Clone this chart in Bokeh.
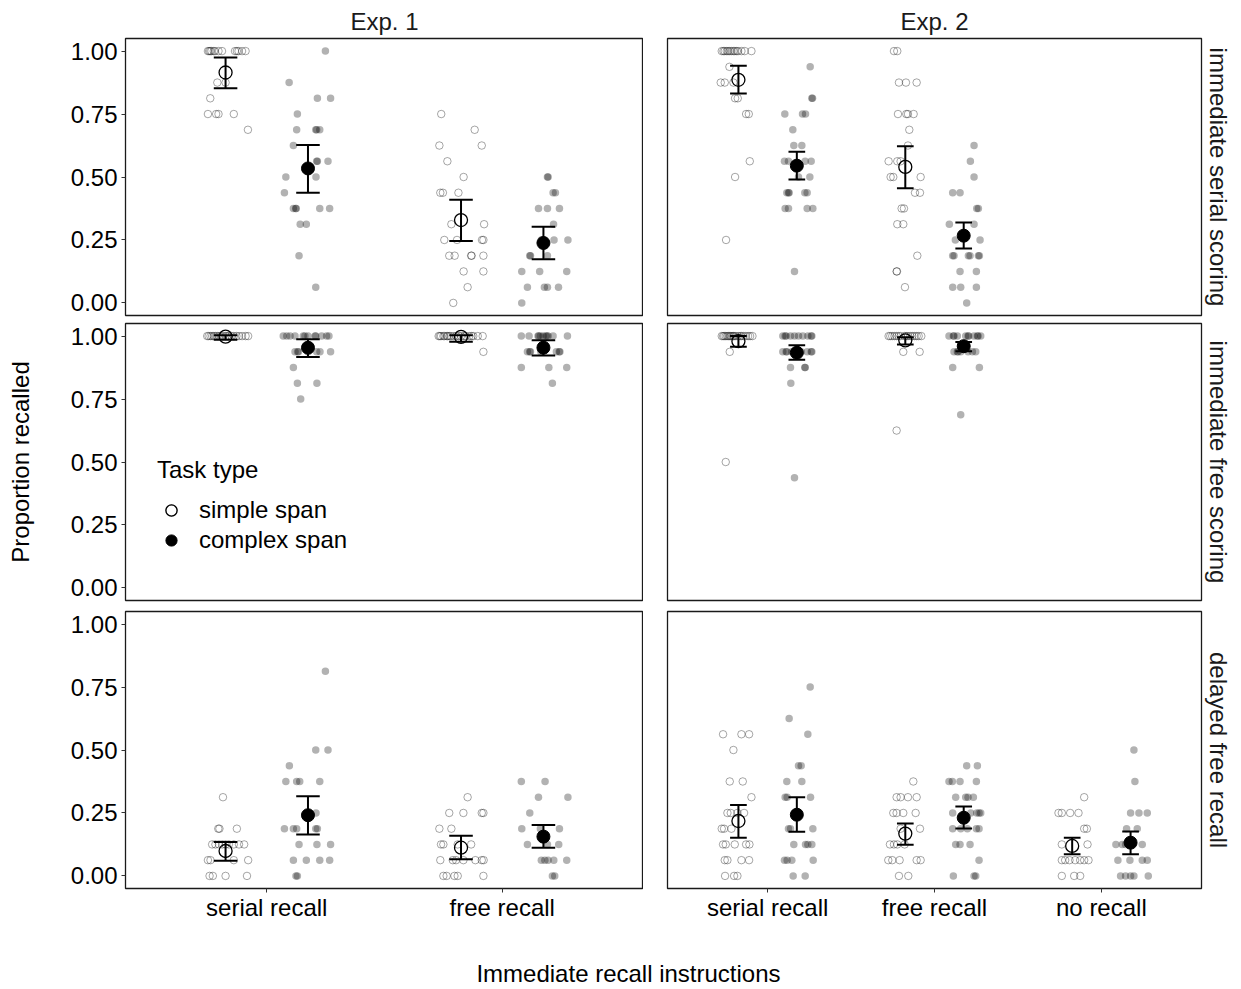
from bokeh.plotting import figure
from bokeh.layouts import column, row
from bokeh.models import Range1d, FixedTicker, Title, Legend, LegendItem, ColumnDataSource
from bokeh.embed import file_html
from bokeh.resources import INLINE

FONT = "Liberation Sans"
FS = "24px"

# ---------------- labels ----------------
measures = ["immediate serial scoring", "immediate free scoring", "delayed free recall"]
experiments = ["Exp. 1", "Exp. 2"]
e1_instr = ["serial recall", "free recall"]
e2_instr = ["serial recall", "free recall", "no recall"]
tasks = ["simple span", "complex span"]
y_ticks = [0.0, 0.25, 0.5, 0.75, 1.0]
y_tick_labels = ["0.00", "0.25", "0.50", "0.75", "1.00"]
x_title = "Immediate recall instructions"
y_title = "Proportion recalled"
legend_title = "Task type"

# ---------------- individual participants (value, jitter offset) ----------------
# row 1: immediate serial scoring
iss_e1_serial_simple_y = [1, 1, 1, 1, 1, 1, 1, 1, 1, 1, 1, 1, 1, 0.875, 0.875, 0.8125, 0.75, 0.75, 0.75, 0.75, 0.6875]
iss_e1_serial_simple_dx = [-0.075, -0.07, -0.065, -0.06, -0.05, -0.045, -0.03, -0.015, 0.04, 0.048, 0.055, 0.07, 0.085, -0.035, 0.0, -0.065, -0.075, -0.04, -0.03, 0.035, 0.095]
iss_e1_serial_complex_y = [1, 0.875, 0.8125, 0.8125, 0.75, 0.6875, 0.6875, 0.6875, 0.6875, 0.625, 0.5625, 0.5625, 0.5625, 0.5, 0.5, 0.4375, 0.375, 0.375, 0.375, 0.375, 0.375, 0.3125, 0.3125, 0.1875, 0.0625]
iss_e1_serial_complex_dx = [0.074, -0.08, 0.04, 0.096, -0.045, -0.048, 0.033, 0.037, 0.05, -0.062, 0.037, 0.04, 0.085, -0.094, 0.034, -0.1, -0.062, -0.052, -0.05, 0.05, 0.092, -0.033, -0.007, -0.038, 0.033]
iss_e1_free_simple_y = [0.75, 0.6875, 0.625, 0.625, 0.5625, 0.5, 0.4375, 0.4375, 0.4375, 0.3125, 0.3125, 0.25, 0.25, 0.25, 0.25, 0.1875, 0.1875, 0.1875, 0.1875, 0.1875, 0.125, 0.125, 0.0625, 0.0]
iss_e1_free_simple_dx = [-0.084, 0.058, -0.092, 0.088, -0.058, 0.011, -0.088, -0.077, -0.011, -0.041, 0.098, -0.071, -0.017, 0.089, 0.095, -0.05, -0.027, 0.043, 0.045, 0.095, 0.011, 0.095, 0.028, -0.033]
iss_e1_free_complex_y = [0.5, 0.5, 0.4375, 0.4375, 0.375, 0.375, 0.375, 0.3125, 0.25, 0.25, 0.25, 0.1875, 0.1875, 0.1875, 0.125, 0.125, 0.125, 0.0625, 0.0625, 0.0625, 0.0625, 0.0]
iss_e1_free_complex_dx = [0.017, 0.02, 0.041, 0.051, -0.021, 0.017, 0.068, 0.043, -0.009, 0.045, 0.104, -0.058, -0.055, 0.017, -0.092, -0.016, 0.099, -0.068, 0.004, 0.017, 0.064, -0.092]
iss_e2_serial_simple_y = [1, 1, 1, 1, 1, 1, 1, 1, 1, 1, 1, 1, 1, 1, 0.9375, 0.875, 0.875, 0.875, 0.8125, 0.8125, 0.75, 0.75, 0.5625, 0.5, 0.25]
iss_e2_serial_simple_dx = [-0.1, -0.09, -0.082, -0.07, -0.062, -0.052, -0.042, -0.03, -0.022, -0.01, -0.002, 0.018, 0.038, 0.078, -0.054, -0.106, -0.082, -0.03, -0.02, -0.004, 0.046, 0.062, 0.068, -0.02, -0.074]
iss_e2_serial_complex_y = [0.9375, 0.8125, 0.8125, 0.75, 0.75, 0.75, 0.6875, 0.625, 0.625, 0.5625, 0.5625, 0.5625, 0.5625, 0.5, 0.5, 0.4375, 0.4375, 0.4375, 0.4375, 0.4375, 0.375, 0.375, 0.375, 0.375, 0.125]
iss_e2_serial_complex_dx = [0.08, 0.09, 0.094, -0.072, 0.034, 0.052, -0.024, -0.018, 0.03, -0.074, -0.05, 0.05, 0.086, 0.078, 0.01, -0.06, -0.05, -0.046, 0.048, 0.062, -0.07, -0.05, 0.062, 0.096, -0.014]
iss_e2_free_simple_y = [1, 1, 0.875, 0.875, 0.875, 0.75, 0.75, 0.75, 0.75, 0.6875, 0.625, 0.5625, 0.5625, 0.5625, 0.5, 0.5, 0.5, 0.4375, 0.4375, 0.375, 0.375, 0.3125, 0.3125, 0.1875, 0.125, 0.125, 0.0625]
iss_e2_free_simple_dx = [-0.068, -0.048, -0.038, 0.004, 0.068, -0.044, 0.006, 0.016, 0.05, 0.024, 0.016, -0.1, -0.048, -0.028, -0.088, -0.072, 0.092, 0.058, 0.088, -0.022, -0.008, -0.048, -0.012, 0.072, -0.052, -0.05, -0.002]
iss_e2_free_complex_y = [0.625, 0.5625, 0.5, 0.4375, 0.4375, 0.375, 0.375, 0.3125, 0.3125, 0.25, 0.25, 0.1875, 0.1875, 0.1875, 0.1875, 0.1875, 0.1875, 0.125, 0.125, 0.0625, 0.0625, 0.0625, 0.0]
iss_e2_free_complex_dx = [0.062, 0.04, 0.062, -0.066, -0.022, 0.078, 0.088, -0.086, 0.062, -0.05, 0.098, -0.066, -0.058, 0.028, 0.038, 0.088, 0.094, -0.022, 0.076, -0.066, -0.018, 0.076, 0.018]

# row 2: immediate free scoring
ifs_e1_serial_simple_y = [1, 1, 1, 1, 1, 1, 1, 1, 1, 1, 1, 1, 1, 1, 1, 1, 1, 1, 1, 1]
ifs_e1_serial_simple_dx = [-0.078, -0.072, -0.064, -0.057, -0.05, -0.043, -0.035, -0.028, -0.021, -0.01, 0.0, 0.007, 0.014, 0.025, 0.035, 0.046, 0.057, 0.07, 0.085, 0.096]
ifs_e1_serial_complex_y = [1, 1, 1, 1, 1, 1, 1, 1, 1, 1, 1, 1, 0.9375, 0.9375, 0.9375, 0.9375, 0.9375, 0.9375, 0.9375, 0.875, 0.8125, 0.8125, 0.75]
ifs_e1_serial_complex_dx = [-0.105, -0.09, -0.076, -0.055, -0.02, -0.013, 0.0, 0.03, 0.033, 0.058, 0.079, 0.089, -0.055, -0.044, -0.04, 0.0, 0.037, 0.051, 0.096, -0.062, -0.045, 0.038, -0.031]
ifs_e1_free_simple_y = [1, 1, 1, 1, 1, 1, 1, 1, 1, 1, 1, 1, 1, 1, 1, 1, 1, 1, 1, 1, 0.9375]
ifs_e1_free_simple_dx = [-0.095, -0.09, -0.085, -0.075, -0.07, -0.06, -0.057, -0.05, -0.043, -0.03, -0.02, -0.01, 0.0, 0.014, 0.02, 0.035, 0.045, 0.052, 0.071, 0.092, 0.095]
ifs_e1_free_complex_y = [1, 1, 1, 1, 1, 1, 1, 1, 1, 1, 1, 0.9375, 0.9375, 0.9375, 0.9375, 0.9375, 0.9375, 0.9375, 0.875, 0.875, 0.875, 0.8125]
ifs_e1_free_complex_dx = [-0.094, -0.061, -0.023, -0.02, -0.013, -0.001, 0.01, 0.015, 0.02, 0.041, 0.102, -0.068, -0.058, -0.055, -0.011, 0.055, 0.067, 0.07, -0.094, 0.023, 0.099, 0.038]
ifs_e2_serial_simple_y = [1, 1, 1, 1, 1, 1, 1, 1, 1, 1, 1, 1, 1, 1, 1, 1, 1, 1, 1, 1, 0.9375, 0.5]
ifs_e2_serial_simple_dx = [-0.1, -0.092, -0.085, -0.076, -0.068, -0.06, -0.052, -0.046, -0.038, -0.03, -0.026, -0.015, -0.002, 0.01, 0.018, 0.03, 0.044, 0.058, 0.07, 0.084, -0.052, -0.076]
ifs_e2_serial_complex_y = [1, 1, 1, 1, 1, 1, 1, 1, 1, 1, 0.9375, 0.9375, 0.9375, 0.9375, 0.9375, 0.9375, 0.9375, 0.9375, 0.875, 0.875, 0.875, 0.8125, 0.4375]
ifs_e2_serial_complex_dx = [-0.084, -0.07, -0.064, -0.038, -0.014, 0.01, 0.036, 0.066, 0.086, 0.09, -0.084, -0.064, -0.06, -0.03, 0.026, 0.062, 0.086, 0.09, -0.038, 0.048, 0.05, -0.036, -0.014]
ifs_e2_free_simple_y = [1, 1, 1, 1, 1, 1, 1, 1, 1, 1, 1, 1, 1, 1, 1, 1, 0.9375, 0.9375, 0.625]
ifs_e2_free_simple_dx = [-0.1, -0.09, -0.078, -0.065, -0.052, -0.04, -0.028, -0.004, 0.005, 0.016, 0.03, 0.042, 0.055, 0.068, 0.08, 0.096, -0.012, 0.086, -0.052]
ifs_e2_free_complex_y = [1, 1, 1, 1, 1, 1, 1, 1, 1, 1, 1, 0.9375, 0.9375, 0.9375, 0.9375, 0.9375, 0.9375, 0.9375, 0.875, 0.875, 0.6875]
ifs_e2_free_complex_dx = [-0.088, -0.062, -0.058, -0.038, 0.012, 0.026, 0.03, 0.062, 0.082, 0.086, 0.102, -0.058, -0.038, -0.034, -0.018, 0.026, 0.052, 0.072, -0.066, 0.094, -0.018]

# row 3: delayed free recall
dfr_e1_serial_simple_y = [0.3125, 0.1875, 0.1875, 0.1875, 0.125, 0.125, 0.125, 0.125, 0.125, 0.125, 0.125, 0.125, 0.125, 0.0625, 0.0625, 0.0625, 0.0625, 0.0, 0.0, 0.0, 0.0]
dfr_e1_serial_simple_dx = [-0.011, -0.031, -0.026, 0.048, -0.057, -0.043, -0.028, -0.014, 0.0, 0.014, 0.035, 0.057, 0.079, -0.075, -0.064, 0.035, 0.096, -0.068, -0.054, 0.0, 0.091]
dfr_e1_serial_complex_y = [0.8125, 0.5, 0.5, 0.4375, 0.375, 0.375, 0.375, 0.375, 0.25, 0.1875, 0.1875, 0.1875, 0.1875, 0.1875, 0.125, 0.125, 0.125, 0.0625, 0.0625, 0.0625, 0.0625, 0.0, 0.0]
dfr_e1_serial_complex_dx = [0.074, 0.033, 0.085, -0.079, -0.094, -0.048, -0.035, 0.05, 0.034, -0.1, -0.062, -0.048, 0.033, 0.04, -0.038, 0.038, 0.096, -0.062, -0.007, 0.05, 0.092, -0.051, -0.045]
dfr_e1_free_simple_y = [0.3125, 0.25, 0.25, 0.25, 0.25, 0.1875, 0.1875, 0.125, 0.125, 0.125, 0.125, 0.0625, 0.0625, 0.0625, 0.0625, 0.0625, 0.0625, 0.0625, 0.0, 0.0, 0.0, 0.0, 0.0]
dfr_e1_free_simple_dx = [0.028, -0.05, 0.01, 0.088, 0.095, -0.092, -0.041, -0.085, -0.075, -0.014, 0.043, -0.088, -0.035, -0.021, 0.01, 0.061, 0.088, 0.096, -0.075, -0.061, -0.028, -0.014, 0.095]
dfr_e1_free_complex_y = [0.375, 0.375, 0.3125, 0.3125, 0.25, 0.1875, 0.1875, 0.1875, 0.125, 0.125, 0.125, 0.0625, 0.0625, 0.0625, 0.0625, 0.0625, 0.0, 0.0]
dfr_e1_free_complex_dx = [-0.094, 0.007, -0.021, 0.104, -0.058, -0.092, -0.013, 0.068, -0.068, 0.017, 0.065, -0.009, 0.006, 0.02, 0.044, 0.099, 0.038, 0.048]
dfr_e2_serial_simple_y = [0.5625, 0.5625, 0.5625, 0.5, 0.375, 0.375, 0.3125, 0.25, 0.25, 0.25, 0.25, 0.1875, 0.1875, 0.1875, 0.125, 0.125, 0.125, 0.125, 0.125, 0.0625, 0.0625, 0.0625, 0.0625, 0.0, 0.0, 0.0]
dfr_e2_serial_simple_dx = [-0.092, 0.018, 0.064, -0.03, -0.052, 0.026, 0.078, -0.066, -0.046, -0.006, 0.034, -0.1, -0.086, -0.042, -0.092, -0.076, -0.022, 0.046, 0.066, -0.082, -0.066, 0.018, 0.064, -0.08, -0.026, -0.006]
dfr_e2_serial_complex_y = [0.75, 0.625, 0.5625, 0.4375, 0.4375, 0.375, 0.375, 0.3125, 0.3125, 0.3125, 0.1875, 0.1875, 0.1875, 0.125, 0.125, 0.125, 0.125, 0.0625, 0.0625, 0.0625, 0.0625, 0.0, 0.0]
dfr_e2_serial_complex_dx = [0.08, -0.046, 0.066, 0.01, 0.026, -0.06, 0.03, -0.07, -0.058, 0.082, -0.05, -0.038, 0.096, -0.018, 0.052, 0.066, 0.09, -0.074, -0.058, -0.03, 0.098, -0.022, 0.05]
dfr_e2_free_simple_y = [0.375, 0.3125, 0.3125, 0.3125, 0.3125, 0.25, 0.25, 0.25, 0.25, 0.1875, 0.1875, 0.125, 0.125, 0.125, 0.125, 0.0625, 0.0625, 0.0625, 0.0625, 0.0625, 0.0, 0.0]
dfr_e2_free_simple_dx = [0.048, -0.052, -0.028, 0.016, 0.068, -0.072, -0.052, -0.012, 0.062, -0.028, 0.088, -0.092, -0.068, -0.048, -0.004, -0.102, -0.078, -0.034, 0.068, 0.092, -0.038, 0.018]
dfr_e2_free_complex_y = [0.4375, 0.4375, 0.375, 0.375, 0.375, 0.375, 0.3125, 0.3125, 0.3125, 0.3125, 0.25, 0.25, 0.25, 0.25, 0.25, 0.1875, 0.1875, 0.1875, 0.1875, 0.1875, 0.125, 0.125, 0.125, 0.0625, 0.0, 0.0, 0.0]
dfr_e2_free_complex_dx = [0.018, 0.082, -0.088, -0.068, -0.022, 0.076, -0.048, 0.012, 0.026, 0.058, -0.066, 0.042, 0.078, 0.092, 0.102, -0.066, -0.018, 0.022, 0.076, 0.092, -0.048, -0.022, 0.038, 0.092, -0.062, 0.062, 0.072]
dfr_e2_no_simple_y = [0.3125, 0.25, 0.25, 0.25, 0.25, 0.1875, 0.1875, 0.125, 0.125, 0.0625, 0.0625, 0.0625, 0.0625, 0.0625, 0.0625, 0.0625, 0.0, 0.0, 0.0]
dfr_e2_no_simple_dx = [0.072, -0.082, -0.062, -0.012, 0.038, 0.072, 0.088, -0.062, 0.092, -0.062, -0.042, -0.016, 0.018, 0.048, 0.072, 0.098, -0.062, 0.012, 0.048]
dfr_e2_no_complex_y = [0.5, 0.375, 0.25, 0.25, 0.25, 0.1875, 0.1875, 0.125, 0.125, 0.125, 0.125, 0.0625, 0.0625, 0.0625, 0.0625, 0.0, 0.0, 0.0, 0.0, 0.0]
dfr_e2_no_complex_dx = [0.02, 0.026, 0.0, 0.05, 0.1, -0.024, 0.04, -0.088, -0.05, -0.03, 0.07, -0.076, -0.004, 0.07, 0.1, -0.06, -0.03, 0.0, 0.02, 0.106]

# ---------------- means and error bars (per instruction) ----------------
iss_e1_simple_mean = [0.915, 0.329]; iss_e1_simple_lo = [0.852, 0.246]; iss_e1_simple_hi = [0.975, 0.410]
iss_e1_complex_mean = [0.534, 0.238]; iss_e1_complex_lo = [0.437, 0.173]; iss_e1_complex_hi = [0.627, 0.302]
iss_e2_simple_mean = [0.886, 0.540]; iss_e2_simple_lo = [0.832, 0.455]; iss_e2_simple_hi = [0.942, 0.622]
iss_e2_complex_mean = [0.545, 0.267]; iss_e2_complex_lo = [0.490, 0.216]; iss_e2_complex_hi = [0.600, 0.319]
ifs_e1_simple_mean = [0.998, 0.997]; ifs_e1_simple_lo = [0.985, 0.978]; ifs_e1_simple_hi = [1.003, 1.003]
ifs_e1_complex_mean = [0.954, 0.954]; ifs_e1_complex_lo = [0.917, 0.923]; ifs_e1_complex_hi = [0.987, 0.983]
ifs_e2_simple_mean = [0.980, 0.983]; ifs_e2_simple_lo = [0.958, 0.967]; ifs_e2_simple_hi = [1.000, 0.995]
ifs_e2_complex_mean = [0.934, 0.960]; ifs_e2_complex_lo = [0.906, 0.940]; ifs_e2_complex_hi = [0.964, 0.977]
dfr_e1_simple_mean = [0.099, 0.112]; dfr_e1_simple_lo = [0.060, 0.066]; dfr_e1_simple_hi = [0.135, 0.159]
dfr_e1_complex_mean = [0.241, 0.156]; dfr_e1_complex_lo = [0.164, 0.112]; dfr_e1_complex_hi = [0.316, 0.202]
dfr_e2_simple_mean = [0.218, 0.168, 0.119]; dfr_e2_simple_lo = [0.152, 0.124, 0.086]; dfr_e2_simple_hi = [0.282, 0.208, 0.152]
dfr_e2_complex_mean = [0.243, 0.231, 0.132]; dfr_e2_complex_lo = [0.175, 0.188, 0.086]; dfr_e2_complex_hi = [0.312, 0.276, 0.176]

# ---------------- assembly ----------------
points = {
    (0, 0): [(0, 0, iss_e1_serial_simple_y, iss_e1_serial_simple_dx), (0, 1, iss_e1_serial_complex_y, iss_e1_serial_complex_dx),
             (1, 0, iss_e1_free_simple_y, iss_e1_free_simple_dx), (1, 1, iss_e1_free_complex_y, iss_e1_free_complex_dx)],
    (0, 1): [(0, 0, iss_e2_serial_simple_y, iss_e2_serial_simple_dx), (0, 1, iss_e2_serial_complex_y, iss_e2_serial_complex_dx),
             (1, 0, iss_e2_free_simple_y, iss_e2_free_simple_dx), (1, 1, iss_e2_free_complex_y, iss_e2_free_complex_dx)],
    (1, 0): [(0, 0, ifs_e1_serial_simple_y, ifs_e1_serial_simple_dx), (0, 1, ifs_e1_serial_complex_y, ifs_e1_serial_complex_dx),
             (1, 0, ifs_e1_free_simple_y, ifs_e1_free_simple_dx), (1, 1, ifs_e1_free_complex_y, ifs_e1_free_complex_dx)],
    (1, 1): [(0, 0, ifs_e2_serial_simple_y, ifs_e2_serial_simple_dx), (0, 1, ifs_e2_serial_complex_y, ifs_e2_serial_complex_dx),
             (1, 0, ifs_e2_free_simple_y, ifs_e2_free_simple_dx), (1, 1, ifs_e2_free_complex_y, ifs_e2_free_complex_dx)],
    (2, 0): [(0, 0, dfr_e1_serial_simple_y, dfr_e1_serial_simple_dx), (0, 1, dfr_e1_serial_complex_y, dfr_e1_serial_complex_dx),
             (1, 0, dfr_e1_free_simple_y, dfr_e1_free_simple_dx), (1, 1, dfr_e1_free_complex_y, dfr_e1_free_complex_dx)],
    (2, 1): [(0, 0, dfr_e2_serial_simple_y, dfr_e2_serial_simple_dx), (0, 1, dfr_e2_serial_complex_y, dfr_e2_serial_complex_dx),
             (1, 0, dfr_e2_free_simple_y, dfr_e2_free_simple_dx), (1, 1, dfr_e2_free_complex_y, dfr_e2_free_complex_dx),
             (2, 0, dfr_e2_no_simple_y, dfr_e2_no_simple_dx), (2, 1, dfr_e2_no_complex_y, dfr_e2_no_complex_dx)],
}
summaries = {
    (0, 0): [(iss_e1_simple_mean, iss_e1_simple_lo, iss_e1_simple_hi), (iss_e1_complex_mean, iss_e1_complex_lo, iss_e1_complex_hi)],
    (0, 1): [(iss_e2_simple_mean, iss_e2_simple_lo, iss_e2_simple_hi), (iss_e2_complex_mean, iss_e2_complex_lo, iss_e2_complex_hi)],
    (1, 0): [(ifs_e1_simple_mean, ifs_e1_simple_lo, ifs_e1_simple_hi), (ifs_e1_complex_mean, ifs_e1_complex_lo, ifs_e1_complex_hi)],
    (1, 1): [(ifs_e2_simple_mean, ifs_e2_simple_lo, ifs_e2_simple_hi), (ifs_e2_complex_mean, ifs_e2_complex_lo, ifs_e2_complex_hi)],
    (2, 0): [(dfr_e1_simple_mean, dfr_e1_simple_lo, dfr_e1_simple_hi), (dfr_e1_complex_mean, dfr_e1_complex_lo, dfr_e1_complex_hi)],
    (2, 1): [(dfr_e2_simple_mean, dfr_e2_simple_lo, dfr_e2_simple_hi), (dfr_e2_complex_mean, dfr_e2_complex_lo, dfr_e2_complex_hi)],
}

DODGE = 0.175
CAP = 0.05
ROW_H = [319, 287, 342]
ROW_TOP = [38, 4, 5]
ROW_BOT = [4, 6, 60]


def style_axis(ax, standoff):
    ax.axis_line_color = None
    ax.major_tick_line_color = "#333333"
    ax.major_tick_line_width = 1
    ax.major_tick_out = 4
    ax.major_tick_in = 0
    ax.minor_tick_line_color = None
    ax.major_label_text_font = FONT
    ax.major_label_text_font_size = FS
    ax.major_label_text_color = "black"
    ax.major_label_standoff = standoff


def panel(m, e):
    left = e == 0
    bottom = m == 2
    instr = e1_instr if left else e2_instr
    p = figure(
        width=643 if left else 598, height=ROW_H[m],
        x_range=Range1d(0.4, len(instr) + 0.6), y_range=Range1d(-0.05, 1.05),
        output_backend="svg", toolbar_location=None, tools="",
        x_axis_location="below" if bottom else None,
        y_axis_location="left" if left else None,
        min_border_left=125 if left else 24, min_border_right=0 if left else 40,
        min_border_top=ROW_TOP[m], min_border_bottom=ROW_BOT[m],
        title=experiments[e] if m == 0 else None,
    )
    p.grid.visible = False
    p.outline_line_color = "#1a1a1a"
    p.outline_line_width = 1.3
    p.background_fill_color = "white"
    p.border_fill_color = "white"
    if m == 0:
        p.title.align = "center"
        p.title.text_font = FONT
        p.title.text_font_size = FS
        p.title.text_font_style = "normal"
        p.title.text_color = "#1a1a1a"
        p.title.standoff = 8
    if not left:
        t = Title(text=measures[m], align="center", text_font=FONT, text_font_size=FS,
                  text_font_style="normal", text_color="#1a1a1a", standoff=7)
        p.add_layout(t, "right")
    if left:
        p.yaxis.ticker = FixedTicker(ticks=y_ticks)
        p.yaxis.major_label_overrides = dict(zip(y_ticks, y_tick_labels))
        style_axis(p.yaxis[0], 4)
        if m == 1:
            p.yaxis.axis_label = y_title
            p.yaxis.axis_label_text_font = FONT
            p.yaxis.axis_label_text_font_size = FS
            p.yaxis.axis_label_text_font_style = "normal"
            p.yaxis.axis_label_text_color = "black"
            p.yaxis.axis_label_standoff = 34
    if bottom:
        pos = list(range(1, len(instr) + 1))
        p.xaxis.ticker = FixedTicker(ticks=pos)
        p.xaxis.major_label_overrides = dict(zip(pos, instr))
        style_axis(p.xaxis[0], 1)

    renderers = {}
    for task in (0, 1):
        xs, ys = [], []
        for ii, ti, yv, dxv in points[(m, e)]:
            if ti != task:
                continue
            base = ii + 1 + (-DODGE if task == 0 else DODGE)
            xs += [base + d for d in dxv]
            ys += list(yv)
        src = ColumnDataSource(dict(x=xs, y=ys))
        if task == 0:
            r = p.scatter("x", "y", source=src, marker="circle", size=7.5, fill_color=None,
                          line_color="black", line_alpha=0.35, line_width=1)
        else:
            r = p.scatter("x", "y", source=src, marker="circle", size=7.5, fill_color="black",
                          fill_alpha=0.3, line_color=None)
        renderers[("pts", task)] = r

    for task in (0, 1):
        mean, lo, hi = summaries[(m, e)][task]
        xc = [i + 1 + (-DODGE if task == 0 else DODGE) for i in range(len(mean))]
        src = ColumnDataSource(dict(x=xc, m=mean, lo=lo, hi=hi,
                                    xl=[x - CAP for x in xc], xr=[x + CAP for x in xc]))
        p.segment(x0="x", y0="lo", x1="x", y1="hi", source=src, line_color="black", line_width=2)
        p.segment(x0="xl", y0="lo", x1="xr", y1="lo", source=src, line_color="black", line_width=2)
        p.segment(x0="xl", y0="hi", x1="xr", y1="hi", source=src, line_color="black", line_width=2)
    for task in (0, 1):
        mean, lo, hi = summaries[(m, e)][task]
        xc = [i + 1 + (-DODGE if task == 0 else DODGE) for i in range(len(mean))]
        src = ColumnDataSource(dict(x=xc, m=mean))
        if task == 0:
            r = p.scatter("x", "m", source=src, marker="circle", size=13, fill_color=None,
                          line_color="black", line_width=1.3)
        else:
            r = p.scatter("x", "m", source=src, marker="circle", size=13, fill_color="black",
                          line_color="black", line_width=1)
        renderers[("mean", task)] = r

    if m == 1 and left:
        legend = Legend(
            items=[LegendItem(label=tasks[0], renderers=[renderers[("pts", 0)], renderers[("mean", 0)]]),
                   LegendItem(label=tasks[1], renderers=[renderers[("pts", 1)], renderers[("mean", 1)]])],
            location=(32, 46), title=legend_title,
            title_text_font=FONT, title_text_font_size=FS, title_text_font_style="normal",
            title_text_color="black", title_standoff=12,
            label_text_font=FONT, label_text_font_size=FS, label_text_color="black",
            glyph_width=28, glyph_height=28, label_height=28, label_standoff=14,
            spacing=2, padding=0, margin=0,
            background_fill_alpha=0, border_line_color=None,
        )
        p.add_layout(legend)
    return p


rows = []
for m in range(3):
    rows.append(row(panel(m, 0), panel(m, 1)))

xl = figure(width=1241, height=41, output_backend="svg", toolbar_location=None, tools="",
            x_axis_location=None, y_axis_location=None, min_border_top=39, min_border_bottom=0,
            min_border_left=15, min_border_right=0, title=x_title)
xl.title.align = "center"
xl.title.text_font = FONT
xl.title.text_font_size = FS
xl.title.text_font_style = "normal"
xl.title.text_color = "black"
xl.title.standoff = 2
xl.outline_line_color = None
xl.grid.visible = False

layout = column(*rows, xl)
open("out.html", "w").write(file_html(layout, INLINE))
